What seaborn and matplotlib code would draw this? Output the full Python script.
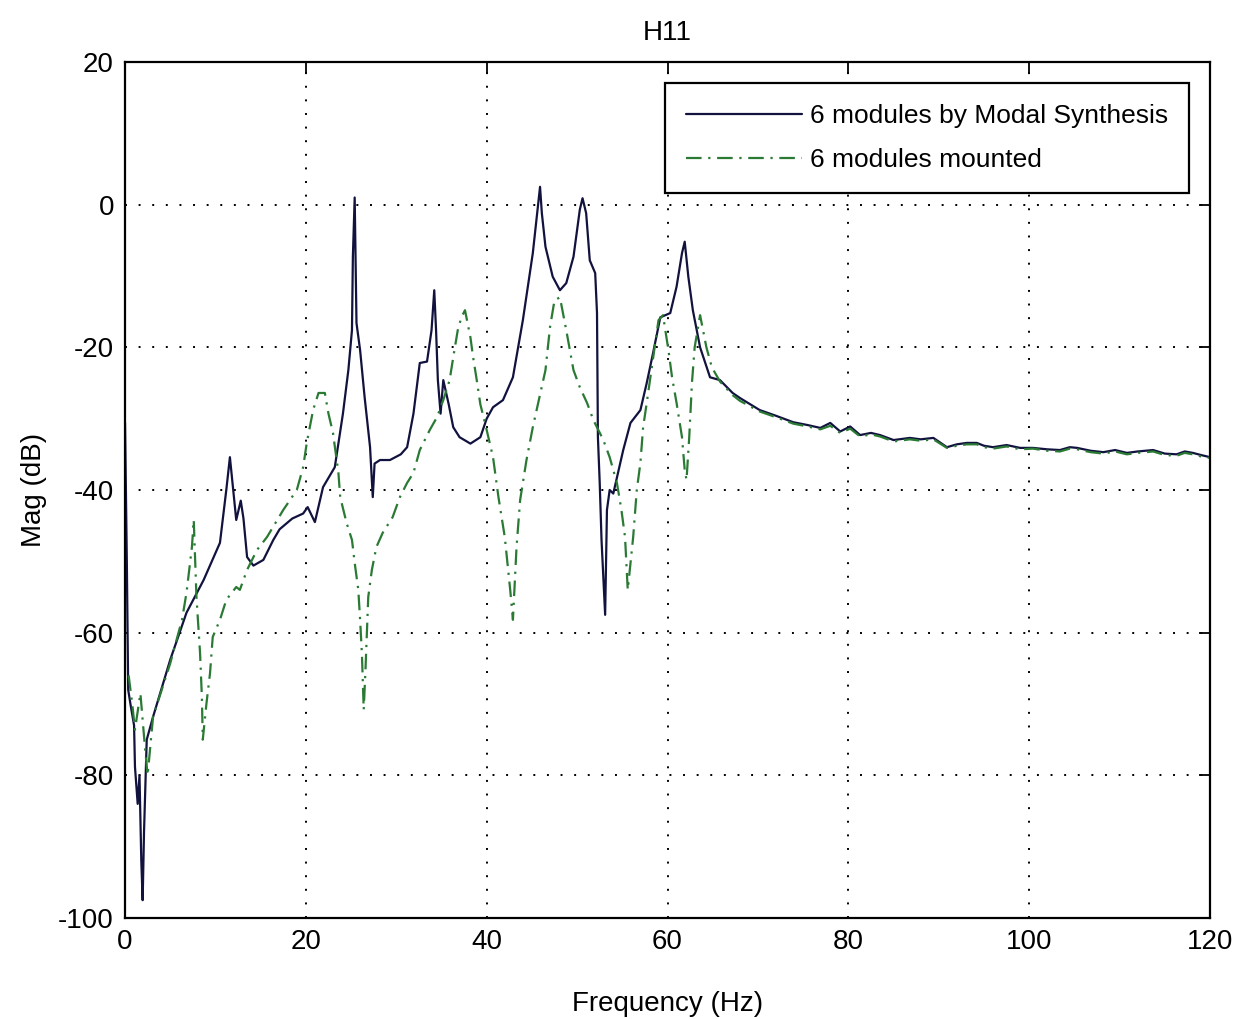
import numpy as np
import pandas as pd
import matplotlib
matplotlib.use("Agg")
import matplotlib.pyplot as plt
import seaborn as sns

freq_synth = [0.0, 0.2, 0.35, 0.6, 1.0, 1.1, 1.4, 1.6, 1.8, 1.95, 2.1, 2.4, 3.1, 4.0, 5.0,
              6.8, 8.7, 9.8, 10.5, 11.2, 11.6, 12.3, 12.8, 13.1, 13.5, 14.2, 15.3, 16.4, 17.1,
              18.5, 19.7, 20.2, 21.0, 21.9, 23.2, 24.1, 24.7, 25.1, 25.2, 25.4, 25.6, 26.0,
              26.5, 27.1, 27.4, 27.6, 28.2, 29.3, 30.5, 31.2, 31.9, 32.6, 33.4, 33.9, 34.2,
              34.4, 34.6, 34.9, 35.2, 35.8, 36.3, 37.0, 38.2, 39.3, 40.0, 40.7, 41.8, 42.9,
              44.0, 45.1, 45.9, 46.1, 46.5, 47.3, 48.1, 48.8, 49.6, 50.3, 50.6, 51.0, 51.4,
              52.0, 52.2, 52.3, 52.5, 52.7, 53.1, 53.3, 53.6, 54.0, 55.1, 55.9, 57.0, 57.7,
              58.4, 59.2, 60.3, 61.0, 61.6, 61.9, 62.3, 62.8, 63.6, 64.7, 65.8, 67.2, 68.0,
              70.2, 72.0, 73.9, 75.5, 76.9, 78.0, 79.1, 80.2, 81.3, 82.5, 83.5, 85.0, 86.8,
              88.0, 89.4, 90.9, 92.0, 93.1, 94.2, 95.0, 96.0, 97.5, 99.0, 100.4, 102.0, 103.4,
              104.5, 105.3, 106.8, 108.2, 109.5, 110.8, 112.0, 113.7, 115.0, 116.3, 117.2,
              118.1, 119.0, 120.0]
mag_synth = [-30.6, -50.0, -68.0, -70.0, -73.0, -78.8, -84.0, -80.0, -92.0, -97.5, -88.0, -75.0,
             -71.8, -68.0, -63.8, -57.2, -52.6, -49.4, -47.4, -40.0, -35.4, -44.2, -41.5, -44.0,
             -49.4, -50.6, -49.8, -47.0, -45.5, -44.0, -43.3, -42.4, -44.5, -39.6, -36.8, -29.3,
             -23.2, -17.6, -7.3, 1.0, -16.6, -20.4, -27.0, -34.0, -41.0, -36.3, -35.8, -35.8,
             -35.0, -34.0, -29.3, -22.2, -22.0, -17.6, -12.0, -17.6, -24.6, -29.3, -24.6, -28.0,
             -31.2, -32.6, -33.5, -32.6, -30.0, -28.4, -27.4, -24.2, -16.2, -6.8, 2.5, -1.2,
             -5.9, -10.1, -12.0, -11.0, -7.3, -0.7, 0.9, -1.2, -7.8, -9.6, -15.2, -32.6, -39.0,
             -47.0, -57.5, -42.8, -40.0, -40.5, -34.4, -30.6, -28.8, -25.0, -20.8, -15.8, -15.2,
             -11.5, -6.8, -5.2, -10.1, -14.8, -20.0, -24.2, -24.6, -26.4, -27.1, -28.8, -29.6,
             -30.5, -30.9, -31.3, -30.6, -31.8, -31.1, -32.3, -32.0, -32.3, -33.0, -32.7, -32.9,
             -32.7, -34.0, -33.6, -33.4, -33.4, -33.8, -34.0, -33.7, -34.1, -34.1, -34.3, -34.4,
             -34.0, -34.1, -34.5, -34.7, -34.4, -34.8, -34.6, -34.4, -34.9, -35.0, -34.6, -34.8,
             -35.1, -35.4]

freq_mounted = [0.4, 0.8, 1.1, 1.7, 2.2, 2.5, 3.1, 5.0, 6.3, 6.8, 7.4, 7.6, 7.9, 8.3, 8.5, 8.6,
                9.0, 9.4, 9.7, 10.5, 11.2, 12.3, 12.7, 13.5, 14.6, 15.7, 17.5, 19.0, 19.7, 20.1,
                20.8, 21.4, 22.1, 22.5, 23.0, 23.6, 23.8, 24.5, 25.1, 25.4, 25.8, 26.0, 26.2,
                26.4, 26.6, 26.9, 27.3, 27.8, 28.5, 29.6, 30.4, 31.2, 31.9, 32.6, 33.7, 34.5,
                35.2, 35.9, 36.3, 36.8, 37.2, 37.6, 38.2, 38.5, 38.9, 39.3, 40.0, 40.7, 41.3,
                42.0, 42.6, 42.9, 43.3, 43.7, 44.4, 45.1, 45.7, 46.5, 47.0, 47.5, 48.1, 48.8,
                49.6, 50.3, 51.1, 51.8, 52.9, 53.6, 54.4, 54.9, 55.3, 55.6, 56.2, 56.6, 57.0,
                57.3, 57.7, 58.1, 58.4, 59.0, 59.5, 60.1, 60.5, 61.0, 61.6, 61.9, 62.1, 62.4,
                62.7, 63.0, 63.6, 64.3, 64.9, 65.8, 67.2, 68.0, 70.2, 72.0, 73.9, 75.5, 76.9,
                78.0, 79.1, 80.2, 81.3, 82.5, 83.5, 85.0, 86.8, 88.0, 89.4, 90.9, 92.0, 93.1,
                94.2, 95.0, 96.0, 97.5, 99.0, 100.4, 102.0, 103.4, 104.5, 105.3, 106.8, 108.2,
                109.5, 110.8, 112.0, 113.7, 115.0, 116.3, 117.2, 118.1, 119.0, 120.0]
mag_mounted = [-66.0, -70.0, -73.6, -68.5, -76.0, -80.0, -71.8, -64.3, -58.2, -54.4, -48.0, -44.2,
               -55.0, -62.9, -69.0, -75.0, -70.0, -65.7, -60.6, -58.2, -55.4, -53.6, -54.0, -51.2,
               -48.4, -46.6, -42.8, -40.0, -36.8, -33.4, -28.8, -26.4, -26.4, -29.3, -32.0, -37.6,
               -41.0, -44.6, -47.0, -50.2, -54.0, -58.2, -63.0, -70.8, -65.0, -55.0, -51.2, -48.0,
               -46.0, -43.8, -41.0, -39.0, -37.6, -34.4, -31.6, -29.8, -27.4, -24.6, -21.4, -17.6,
               -15.8, -14.8, -18.6, -21.4, -24.6, -28.0, -31.6, -35.4, -41.0, -46.6, -54.0, -58.2,
               -48.0, -41.4, -35.8, -31.2, -27.8, -23.2, -17.2, -13.4, -13.0, -17.6, -23.2, -25.6,
               -27.8, -30.2, -33.0, -35.4, -39.0, -42.8, -46.6, -54.0, -46.6, -40.0, -36.2, -31.2,
               -27.8, -24.2, -21.4, -16.2, -15.5, -20.4, -24.2, -27.8, -32.6, -37.2, -38.6, -32.6,
               -25.0, -20.0, -15.5, -20.0, -22.8, -24.8, -26.7, -27.5, -29.0, -29.8, -30.7, -31.1,
               -31.5, -31.0, -32.0, -31.4, -32.5, -32.2, -32.5, -33.2, -32.9, -33.1, -32.9, -34.1,
               -33.8, -33.6, -33.6, -34.0, -34.2, -33.9, -34.3, -34.2, -34.5, -34.6, -34.2, -34.3,
               -34.7, -34.9, -34.6, -35.0, -34.8, -34.6, -35.1, -35.2, -34.8, -35.0, -35.3, -35.5]

df = pd.concat([
    pd.DataFrame({'freq': freq_synth, 'mag': mag_synth, 'serie': '6 modules by Modal Synthesis'}),
    pd.DataFrame({'freq': freq_mounted, 'mag': mag_mounted, 'serie': '6 modules mounted'}),
], ignore_index=True)

sns.set_style('white')
plt.rcParams['font.family'] = ['Liberation Sans', 'DejaVu Sans']
plt.rcParams['axes.unicode_minus'] = False
plt.rcParams['text.color'] = 'black'
plt.rcParams['axes.labelcolor'] = 'black'
plt.rcParams['xtick.color'] = 'black'
plt.rcParams['ytick.color'] = 'black'

fig = plt.figure(figsize=(12.44, 10.19), dpi=100)
ax = fig.add_axes([0.1005, 0.0991, 0.8722, 0.8401])

sns.lineplot(data=df, x='freq', y='mag', hue='serie', style='serie',
             palette={'6 modules by Modal Synthesis': '#12123f', '6 modules mounted': '#2a7a34'},
             dashes={'6 modules by Modal Synthesis': '', '6 modules mounted': (7, 3, 1, 3)},
             sort=False, estimator=None, linewidth=1.6, ax=ax)

ax.set_xlim(0, 120)
ax.set_ylim(-100, 20)
ax.set_xticks(np.arange(0, 121, 20))
ax.set_yticks(np.arange(-100, 21, 20))
ax.grid(True, color='black', linestyle=(0, (1, 6)), linewidth=1.4)
ax.tick_params(direction='in', length=8, width=1.3, top=True, right=True,
               labelsize=20, pad=8)
for s in ax.spines.values():
    s.set_color('black')
    s.set_linewidth(1.6)

# el titulo se coloca por encima de las etiquetas superiores
ax.set_title('H11', fontsize=20, pad=16)
ax.set_xlabel('Frequency (Hz)', fontsize=20, labelpad=26)
ax.set_ylabel('Mag (dB)', fontsize=20, labelpad=8)

leg = ax.legend(loc='upper right', fontsize=19, handlelength=4.4, handletextpad=0.3,
                frameon=True, fancybox=False, borderaxespad=0.8, borderpad=0.8,
                labelspacing=0.75)
leg.get_frame().set_edgecolor('black')
leg.get_frame().set_linewidth(1.6)
leg.get_frame().set_alpha(1)

fig.savefig('out.png', dpi=100)
